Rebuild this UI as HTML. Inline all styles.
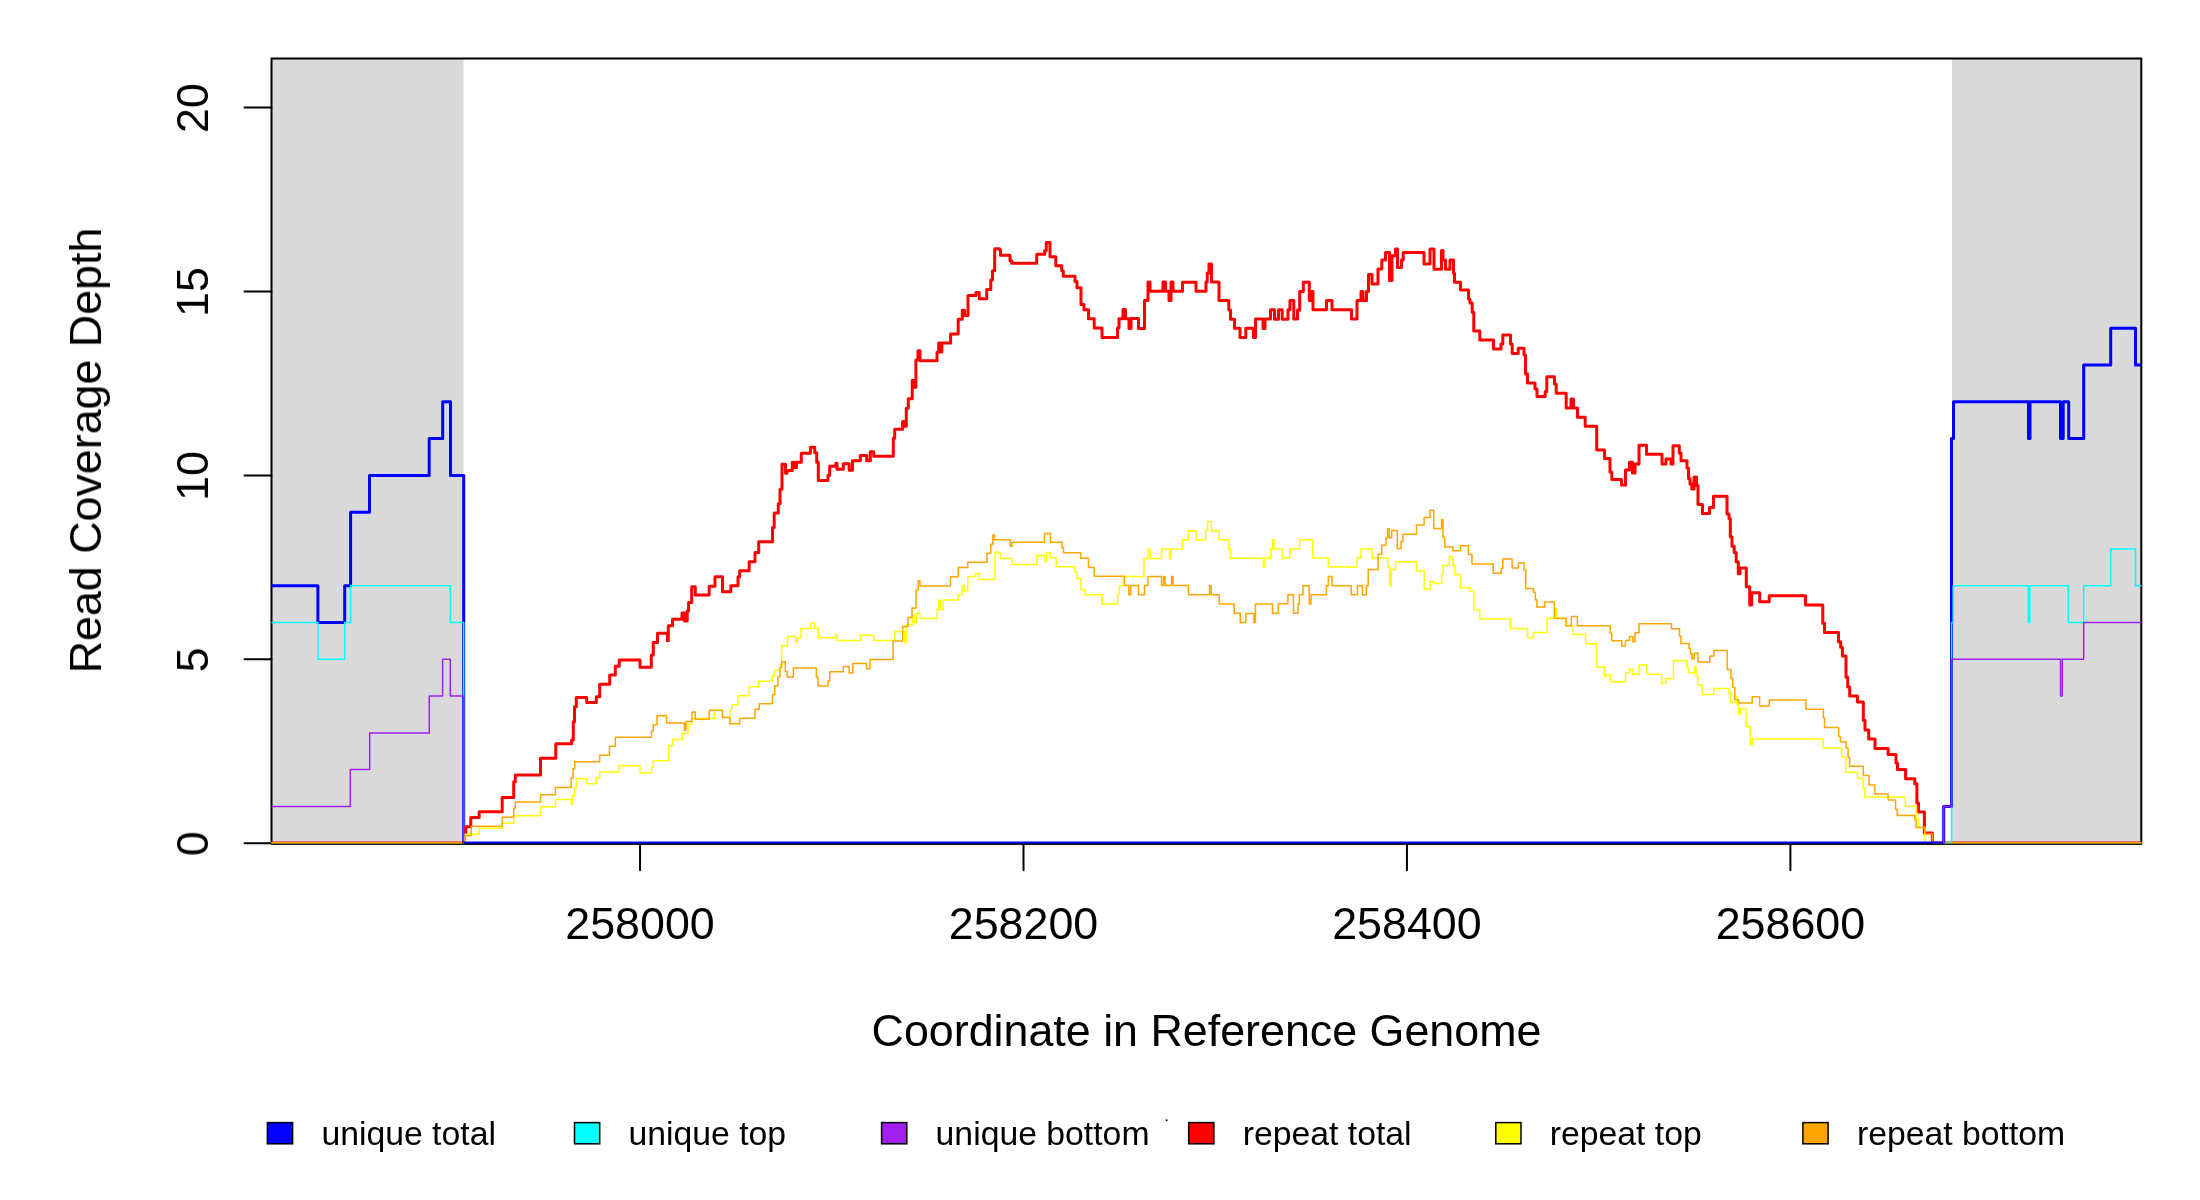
<!DOCTYPE html>
<html><head><meta charset="utf-8"><style>html,body{margin:0;padding:0;background:#fff;overflow:hidden}svg{display:block} text{will-change:transform}</style></head>
<body><svg width="2200" height="1200" viewBox="0 0 2200 1200">
<rect x="0" y="0" width="2200" height="1200" fill="#fff"/>
<rect x="271.5" y="58.4" width="192.0" height="784.8000000000001" fill="#d9d9d9"/>
<rect x="1952" y="58.4" width="189.30000000000018" height="784.8000000000001" fill="#d9d9d9"/>
<path d="M271.5 843.8V58.4H2141.3V843.8H271.5Z" fill="none" stroke="#000" stroke-width="2" stroke-linejoin="round"/>
<line x1="244.5" y1="843.20" x2="271.5" y2="843.20" stroke="#000" stroke-width="2" stroke-linecap="round"/>
<text transform="translate(208,843.70) rotate(-90)" text-anchor="middle" font-size="44.8" font-family='"Liberation Sans", sans-serif'>0</text>
<line x1="244.5" y1="659.30" x2="271.5" y2="659.30" stroke="#000" stroke-width="2" stroke-linecap="round"/>
<text transform="translate(208,659.80) rotate(-90)" text-anchor="middle" font-size="44.8" font-family='"Liberation Sans", sans-serif'>5</text>
<line x1="244.5" y1="475.40" x2="271.5" y2="475.40" stroke="#000" stroke-width="2" stroke-linecap="round"/>
<text transform="translate(208,475.90) rotate(-90)" text-anchor="middle" font-size="44.8" font-family='"Liberation Sans", sans-serif'>10</text>
<line x1="244.5" y1="291.50" x2="271.5" y2="291.50" stroke="#000" stroke-width="2" stroke-linecap="round"/>
<text transform="translate(208,292.00) rotate(-90)" text-anchor="middle" font-size="44.8" font-family='"Liberation Sans", sans-serif'>15</text>
<line x1="244.5" y1="107.60" x2="271.5" y2="107.60" stroke="#000" stroke-width="2" stroke-linecap="round"/>
<text transform="translate(208,108.10) rotate(-90)" text-anchor="middle" font-size="44.8" font-family='"Liberation Sans", sans-serif'>20</text>
<line x1="640.05" y1="843.2" x2="640.05" y2="870.2" stroke="#000" stroke-width="2" stroke-linecap="round"/>
<text x="640.05" y="939" text-anchor="middle" font-size="44.8" font-family='"Liberation Sans", sans-serif'>258000</text>
<line x1="1023.50" y1="843.2" x2="1023.50" y2="870.2" stroke="#000" stroke-width="2" stroke-linecap="round"/>
<text x="1023.50" y="939" text-anchor="middle" font-size="44.8" font-family='"Liberation Sans", sans-serif'>258200</text>
<line x1="1406.95" y1="843.2" x2="1406.95" y2="870.2" stroke="#000" stroke-width="2" stroke-linecap="round"/>
<text x="1406.95" y="939" text-anchor="middle" font-size="44.8" font-family='"Liberation Sans", sans-serif'>258400</text>
<line x1="1790.40" y1="843.2" x2="1790.40" y2="870.2" stroke="#000" stroke-width="2" stroke-linecap="round"/>
<text x="1790.40" y="939" text-anchor="middle" font-size="44.8" font-family='"Liberation Sans", sans-serif'>258600</text>
<text x="1206.5" y="1045.8" text-anchor="middle" font-size="44.8" font-family='"Liberation Sans", sans-serif'>Coordinate in Reference Genome</text>
<text transform="translate(101,450.5) rotate(-90)" text-anchor="middle" font-size="44.8" font-family='"Liberation Sans", sans-serif'>Read Coverage Depth</text>
<path d="M271.5 842.7H463.7M1932.4 842.7H2141.3" fill="none" stroke="#ff0000" stroke-width="2.4"/>
<path d="M271.5 842.8H463.7M1932.4 842.8H2141.3" fill="none" stroke="#ffff00" stroke-width="1.5"/>
<path d="M271.5 842.9H463.7M1932.4 842.9H2141.3" fill="none" stroke="#ffa500" stroke-width="2"/>
<path d="M271.5 585.7H317.9V622.5H344.7V585.7H350.6V512.2H369.5V475.4H429.2V438.6H442.7V401.8H450.5V475.4H463.7V843.2" fill="none" stroke="#0000ff" stroke-width="3" stroke-linejoin="round"/>
<path d="M271.5 622.5H317.9V659.3H344.7V622.5H350.6V585.7H450.3V622.5H463.7V843.2" fill="none" stroke="#00ffff" stroke-width="1.5" stroke-linejoin="round"/>
<path d="M271.5 806.4H350.3V769.6H369.7V732.9H429.3V696.1H442.6V659.3H450.3V696.1H463.7V843.2" fill="none" stroke="#a020f0" stroke-width="1.5" stroke-linejoin="round"/>
<path d="M465.8 834.0H465.8V826.7H470.8V817.5H479.2V811.7H502.2V797.5H513.7V781.7H515.3V775.0H540.5V758.3H555.8V743.7H571.7V740.0H573.3V721.7H574.5V706.7H576.3V697.5H586.7V702.5H596.3V696.7H599.7V684.2H609.7V675.0H615.3V666.2H619.2V660.0H640.0V667.2H651.3V655.0H653.3V642.5H657.5V633.3H667.5V640.8H668.3V625.8H672.5V619.2H682.0V613.0H684.5V621.0H687.2V611.0H688.6V602.5H691.7V586.7H695.3V595.0H709.2V586.3H715.0V576.7H722.5V591.7H730.8V585.8H738.0V576.7H739.7V570.8H749.2V561.7H755.0V552.5H758.7V541.7H772.5V527.5H774.2V513.0H778.3V503.8H780.0V489.2H782.0V464.2H785.5V473.3H787.0V470.4H792.3V462.2H794.2V467.4H796.5V462.2H801.3V453.2H810.4V447.3H814.7V452.8H816.7V462.2H818.3V480.5H828.0V475.3H829.7V466.2H835.8V463.3H837.0V469.2H843.3V463.8H849.2V470.3H852.5V460.8H860.3V455.5H866.7V460.8H870.3V451.7H873.7V456.3H893.3V438.3H894.7V429.2H902.6V421.6H904.3V426.3H906.3V408.3H908.3V398.7H912.2V380.5H914.0V387.3H915.9V360.0H918.0V350.8H920.0V360.8H937.0V352.3H938.7V343.0H940.5V352.0H941.8V343.0H950.6V333.9H958.2V319.2H962.3V310.3H964.5V315.5H968.0V295.5H975.8V292.5H979.2V298.7H986.7V289.5H990.8V280.0H992.5V270.8H994.7V248.7H999.7V250.3H1000.5V255.3H1010.0V260.8H1011.7V263.3H1036.7V254.2H1044.7V250.8H1046.3V242.5H1050.0V256.7H1055.8V265.8H1061.7V270.8H1063.3V276.3H1075.0V281.5H1077.0V287.7H1081.0V304.5H1084.0V309.7H1088.5V318.7H1094.2V328.0H1102.0V337.5H1117.5V328.0H1119.0V318.8H1123.0V309.5H1125.5V318.8H1129.0V328.5H1131.0V318.5H1138.5V328.5H1144.5V300.5H1148.0V282.0H1150.0V291.2H1163.0V282.0H1165.5V291.2H1169.0V300.5H1171.0V282.0H1173.0V291.2H1182.5V282.2H1196.0V291.2H1206.0V282.0H1207.2V273.0H1209.0V264.0H1211.5V282.0H1219.0V300.5H1228.8V310.0H1230.5V319.2H1234.5V328.2H1240.0V337.5H1245.8V328.2H1253.5V337.5H1255.5V319.0H1263.0V328.5H1265.0V319.0H1270.5V309.7H1274.5V319.2H1278.5V309.7H1282.2V319.2H1288.0V309.7H1290.0V300.5H1293.8V319.0H1297.5V310.0H1299.7V291.5H1303.3V282.2H1309.3V300.5H1311.0V291.5H1313.0V309.7H1326.5V300.5H1332.0V309.7H1351.5V319.0H1357.0V300.5H1361.0V291.5H1363.0V300.5H1366.5V291.5H1368.5V274.5H1372.0V284.0H1378.0V269.0H1381.8V260.0H1385.5V252.5H1389.5V280.5H1392.0V255.8H1395.5V249.0H1397.5V267.5H1401.5V260.0H1403.2V252.5H1424.0V264.0H1430.0V249.0H1434.0V269.2H1441.5V250.5H1443.0V260.0H1445.5V269.2H1450.0V260.0H1453.5V273.2H1454.5V282.2H1460.5V290.0H1468.5V299.0H1470.0V303.0H1472.2V312.2H1473.8V331.0H1479.8V340.0H1493.5V349.0H1501.0V344.0H1502.8V335.0H1510.5V344.0H1512.2V353.5H1518.2V348.2H1524.0V355.0H1525.5V374.0H1527.5V383.0H1535.0V389.0H1537.0V396.5H1545.2V391.5H1546.8V376.8H1554.5V384.0H1556.2V393.2H1566.2V408.0H1571.0V399.0H1573.5V408.0H1577.5V417.2H1585.2V426.2H1596.7V450.0H1604.5V458.5H1610.0V472.0H1611.8V479.5H1621.5V485.0H1625.5V470.0H1629.5V462.2H1632.5V473.0H1635.0V464.0H1639.0V445.2H1646.5V454.2H1662.0V464.0H1666.0V459.0H1671.0V464.0H1673.0V445.8H1679.3V453.0H1681.0V460.8H1687.0V468.0H1688.5V478.5H1690.0V484.0H1691.8V489.0H1694.0V477.0H1696.5V485.5H1698.0V504.5H1702.5V513.5H1709.5V507.5H1713.5V496.2H1727.0V514.0H1729.0V518.5H1730.3V536.7H1732.0V546.3H1734.2V552.5H1736.2V561.7H1738.3V573.7H1740.0V568.0H1746.3V586.7H1749.7V605.0H1751.7V592.8H1759.7V601.7H1769.2V595.8H1805.5V605.0H1822.8V623.3H1824.5V632.5H1838.5V641.7H1840.6V647.2H1842.4V656.0H1846.0V677.2H1847.7V687.0H1849.7V696.0H1857.4V701.9H1863.3V720.2H1865.0V730.0H1868.7V739.0H1875.0V748.5H1888.1V754.4H1896.0V763.1H1897.5V769.4H1905.6V778.8H1914.8V783.8H1916.9V803.1H1918.5V811.9H1924.4V833.1H1932.4V843.2" fill="none" stroke="#ff0000" stroke-width="3" stroke-linejoin="round"/>
<path d="M465.3 843.2H465.3V834.2H479.2V828.3H502.2V823.3H513.7V815.8H540.5V806.7H555.5V799.5H571.2V804.2H572.5V795.8H574.2V788.3H576.3V778.8H586.7V783.8H596.3V778.0H599.7V772.1H619.1V765.8H640.0V773.0H651.5V767.3H653.2V760.8H668.7V745.7H672.6V739.5H682.3V733.4H688.0V724.4H691.7V718.5H714.7V710.3H722.5V717.5H730.0V710.8H731.7V705.0H738.0V695.8H749.2V686.7H758.7V681.2H772.5V675.8H774.7V670.3H780.0V665.0H781.7V645.8H787.5V636.6H795.6V642.8H797.2V637.7H801.0V628.5H810.8V623.1H814.5V628.5H818.3V637.7H835.5V634.5H837.3V640.6H860.6V635.3H873.8V640.6H894.7V631.5H904.8V642.8H906.6V624.4H912.6V615.5H914.2V622.5H916.4V613.3H920.0V618.5H937.2V609.5H938.7V600.0H940.3V609.5H943.2V600.0H958.2V594.8H962.0V585.5H964.0V591.0H967.8V576.5H975.5V573.5H979.2V579.5H995.0V552.0H998.2V553.2H1000.5V558.5H1012.0V564.5H1036.8V555.5H1044.5V561.5H1046.5V552.5H1050.2V557.8H1056.2V566.8H1075.2V572.2H1077.0V578.5H1081.0V589.8H1084.5V594.8H1102.1V604.0H1117.5V594.8H1119.2V585.7H1123.5V576.5H1144.0V558.5H1148.0V549.0H1150.0V558.5H1161.5V549.0H1169.5V558.5H1171.2V549.0H1182.5V539.8H1188.5V530.8H1196.0V539.8H1205.5V530.8H1207.5V521.5H1211.5V530.8H1219.2V539.8H1228.8V549.0H1230.5V558.3H1263.2V567.1H1264.9V558.1H1270.8V549.0H1272.7V539.7H1274.2V549.0H1282.4V558.1H1289.8V549.0H1299.6V539.7H1312.8V558.1H1328.3V567.1H1357.1V558.1H1361.0V549.0H1372.2V558.1H1387.8V567.1H1389.8V585.8H1391.3V569.4H1395.6V561.8H1416.4V571.0H1424.2V589.2H1430.0V581.7H1433.7V583.4H1441.6V574.5H1443.2V565.6H1449.4V556.6H1452.9V565.6H1454.9V574.5H1460.5V587.8H1470.1V591.6H1473.9V609.9H1479.8V619.0H1510.4V628.4H1527.6V637.7H1533.4V632.4H1547.1V618.1H1555.5V608.5H1557.0V618.3H1566.0V625.8H1573.3V634.5H1585.5V643.8H1596.5V667.2H1604.5V676.5H1606.2V674.8H1610.2V681.8H1625.5V672.8H1629.5V669.0H1633.0V674.2H1639.0V665.0H1646.8V674.2H1661.8V683.2H1665.8V678.8H1673.5V660.5H1686.8V667.8H1688.5V672.8H1694.5V666.5H1696.0V676.0H1697.8V685.2H1702.2V694.5H1713.8V688.4H1728.9V693.2H1730.7V702.3H1735.6V696.3H1737.1V704.7H1738.8V714.2H1740.6V708.4H1746.1V726.6H1750.3V745.0H1752.2V739.1H1823.1V748.1H1841.8V757.3H1845.8V772.2H1857.5V778.5H1863.1V788.1H1865.0V796.9H1905.2V806.2H1916.5V818.8H1918.5V827.5H1924.8V843.2" fill="none" stroke="#ffff00" stroke-width="1.5" stroke-linejoin="round"/>
<path d="M465.3 843.2H465.3V835.8H471.2V826.3H502.2V817.2H513.7V808.3H515.3V802.0H540.5V794.7H555.5V787.5H571.2V778.0H573.0V768.7H574.7V761.7H599.7V755.3H609.5V746.2H615.4V737.2H651.5V731.1H653.2V724.7H657.0V715.8H666.6V722.9H684.4V730.2H685.9V721.5H692.0V712.0H695.3V719.2H709.2V710.3H722.5V717.5H730.0V723.7H739.7V718.3H755.0V709.2H759.2V703.7H772.5V694.7H774.7V685.8H778.0V676.7H780.0V667.5H781.7V661.7H785.3V671.3H787.1V677.0H793.4V668.0H816.4V677.3H818.1V686.1H827.9V681.0H829.7V671.8H843.3V666.4H849.2V672.9H852.8V663.4H866.5V668.8H870.1V659.4H893.1V641.0H902.6V626.6H908.0V617.5H912.0V608.1H916.1V590.0H918.2V580.8H920.0V586.0H950.5V576.8H958.2V567.5H967.8V562.2H987.0V553.2H990.8V544.2H992.8V535.0H994.5V539.8H1010.2V546.2H1012.0V542.2H1044.5V533.5H1050.5V542.2H1062.0V547.5H1063.5V552.8H1080.8V558.2H1088.5V567.5H1094.2V576.2H1124.5V585.5H1128.8V594.8H1130.8V585.5H1138.5V594.8H1144.5V585.5H1148.0V576.5H1161.5V585.5H1163.5V576.5H1165.0V585.5H1171.5V576.5H1173.0V585.5H1188.5V594.8H1209.5V585.5H1211.2V594.8H1219.2V604.0H1234.2V613.2H1240.2V622.5H1245.8V613.5H1254.0V622.5H1255.5V604.0H1272.5V613.2H1278.3V603.8H1287.9V594.8H1293.5V613.2H1298.0V604.1H1299.3V594.8H1303.0V585.8H1309.2V604.1H1311.0V594.8H1326.4V585.8H1328.3V576.4H1332.0V585.8H1351.2V594.8H1357.4V585.8H1362.4V594.8H1366.4V585.8H1368.2V569.4H1378.1V554.2H1381.8V545.2H1386.0V538.0H1387.5V528.8H1389.2V537.8H1391.6V530.5H1397.3V548.8H1401.0V541.5H1403.0V534.2H1416.5V525.0H1424.1V517.5H1430.0V510.3H1433.7V528.6H1441.6V519.6H1443.0V537.6H1444.8V546.9H1452.9V550.8H1460.5V545.8H1468.4V554.6H1472.0V564.0H1493.2V573.3H1501.1V568.2H1502.8V558.9H1512.1V567.9H1518.3V563.0H1524.1V570.0H1525.8V588.4H1533.4V592.2H1535.4V599.8H1536.9V607.1H1544.8V602.1H1554.4V618.4H1566.1V625.8H1571.4V616.5H1577.4V625.8H1610.2V633.2H1611.8V640.8H1621.8V646.0H1625.5V640.5H1629.5V636.5H1633.0V642.0H1635.0V632.8H1639.0V623.8H1671.5V628.8H1679.5V636.2H1681.0V643.5H1689.0V648.5H1690.5V654.0H1692.2V659.0H1694.2V653.2H1698.0V662.0H1709.8V656.0H1714.0V650.5H1727.2V669.4H1730.9V678.4H1732.8V687.4H1734.8V699.8H1738.6V702.9H1752.2V696.8H1759.6V706.1H1769.2V700.0H1805.9V709.3H1823.4V718.1H1824.6V727.4H1838.6V736.4H1840.4V742.1H1846.2V748.1H1848.1V757.5H1849.6V766.3H1863.3V775.6H1869.0V785.0H1874.8V794.0H1888.1V800.0H1895.6V809.4H1897.2V815.6H1915.0V820.6H1916.2V827.5H1925.0V834.0H1932.5V843.2" fill="none" stroke="#ffa500" stroke-width="1.5" stroke-linejoin="round"/>
<path d="M1940 842.8H1951.5" fill="none" stroke="#00ffff" stroke-width="1.8" opacity="0.55"/>
<path d="M463.7 842.6H1943.7" fill="none" stroke="#0000ff" stroke-width="2.4"/>
<path d="M1943.7 843.2H1943.7V806.4H1951.5V438.6H1953.5V401.8H2028.5V438.6H2030.0V401.8H2060.5V438.6H2063.2V401.8H2068.7V438.6H2083.7V365.1H2110.7V328.3H2135.5V365.1H2141.3V365.1" fill="none" stroke="#0000ff" stroke-width="3" stroke-linejoin="round"/>
<path d="M1951.6 843.2H1951.6V622.5H1953.2V585.7H2028.3V622.5H2029.8V585.7H2068.3V622.5H2083.7V585.7H2110.7V549.0H2135.5V585.7H2141.3V585.7" fill="none" stroke="#00ffff" stroke-width="1.5" stroke-linejoin="round"/>
<path d="M1943.7 843.2H1943.7V806.4H1951.5V659.3H2060.5V696.1H2062.3V659.3H2083.7V622.5H2141.3V622.5" fill="none" stroke="#a020f0" stroke-width="1.5" stroke-linejoin="round"/>
<path d="M271.5 844.2H2141.3" fill="none" stroke="#000" stroke-width="1.4" opacity="0.6"/>
<rect x="267.4" y="1122.6" width="25.2" height="21.2" fill="#0000ff" stroke="#000" stroke-width="1.5"/>
<text x="321.4" y="1144.8" font-size="33.75" font-family='"Liberation Sans", sans-serif'>unique total</text>
<rect x="574.5" y="1122.6" width="25.2" height="21.2" fill="#00ffff" stroke="#000" stroke-width="1.5"/>
<text x="628.5" y="1144.8" font-size="33.75" font-family='"Liberation Sans", sans-serif'>unique top</text>
<rect x="881.6" y="1122.6" width="25.2" height="21.2" fill="#a020f0" stroke="#000" stroke-width="1.5"/>
<text x="935.6" y="1144.8" font-size="33.75" font-family='"Liberation Sans", sans-serif'>unique bottom</text>
<rect x="1188.7" y="1122.6" width="25.2" height="21.2" fill="#ff0000" stroke="#000" stroke-width="1.5"/>
<text x="1242.7" y="1144.8" font-size="33.75" font-family='"Liberation Sans", sans-serif'>repeat total</text>
<rect x="1495.8" y="1122.6" width="25.2" height="21.2" fill="#ffff00" stroke="#000" stroke-width="1.5"/>
<text x="1549.8" y="1144.8" font-size="33.75" font-family='"Liberation Sans", sans-serif'>repeat top</text>
<rect x="1802.9" y="1122.6" width="25.2" height="21.2" fill="#ffa500" stroke="#000" stroke-width="1.5"/>
<text x="1856.9" y="1144.8" font-size="33.75" font-family='"Liberation Sans", sans-serif'>repeat bottom</text>
<circle cx="1166.6" cy="1120.2" r="1" fill="#000"/>
</svg></body></html>
